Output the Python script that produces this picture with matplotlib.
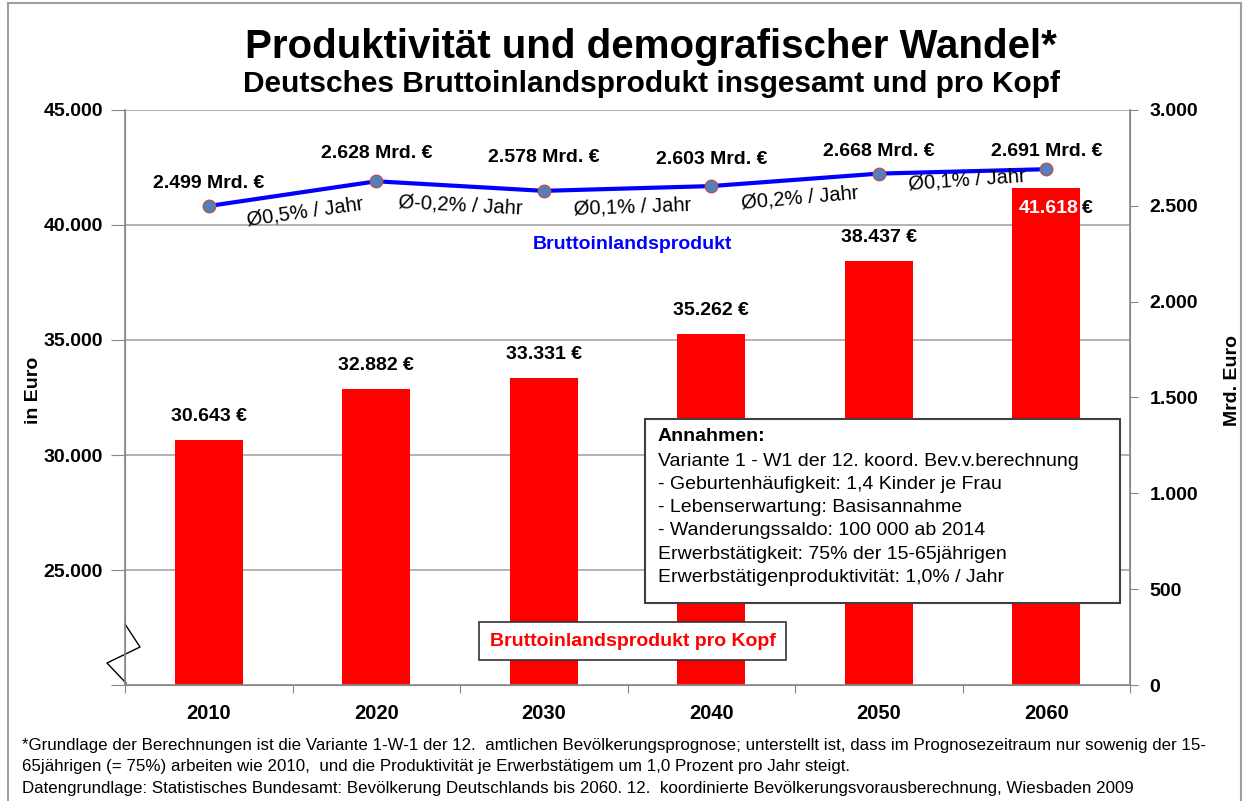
import matplotlib
matplotlib.use("Agg")
import matplotlib.pyplot as plt
from matplotlib.patches import Rectangle
from matplotlib.lines import Line2D

plt.rcParams['font.family'] = ['Liberation Sans', 'DejaVu Sans']

# data
years = ['2010', '2020', '2030', '2040', '2050', '2060']
bip_kopf = [30643, 32882, 33331, 35262, 38437, 41618]     # Euro pro Kopf
bip_mrd = [2499, 2628, 2578, 2603, 2668, 2691]            # Mrd. Euro
growth = ['Ø0,5% / Jahr', 'Ø-0,2% / Jahr', 'Ø0,1% / Jahr', 'Ø0,2% / Jahr', 'Ø0,1% / Jahr']

annahmen = ['Variante 1 - W1 der 12. koord. Bev.v.berechnung',
            '- Geburtenhäufigkeit: 1,4 Kinder je Frau',
            '- Lebenserwartung: Basisannahme',
            '- Wanderungssaldo: 100 000 ab 2014',
            'Erwerbstätigkeit: 75% der 15-65jährigen',
            'Erwerbstätigenproduktivität: 1,0% / Jahr']

footnote = ('*Grundlage der Berechnungen ist die Variante 1-W-1 der 12.  amtlichen Bevölkerungsprognose; '
            'unterstellt ist, dass im Prognosezeitraum nur sowenig der 15-\n'
            '65jährigen (= 75%) arbeiten wie 2010,  und die Produktivität je Erwerbstätigem um 1,0 Prozent pro Jahr steigt.\n'
            'Datengrundlage: Statistisches Bundesamt: Bevölkerung Deutschlands bis 2060. 12.  koordinierte '
            'Bevölkerungsvorausberechnung, Wiesbaden 2009')


def de(v):
    return f'{v:,.0f}'.replace(',', '.')


fig = plt.figure(figsize=(12.5, 8.01), dpi=100)
ax = fig.add_axes([0.1, 0.1448, 0.804, 0.7179])
ax2 = ax.twinx()

x = list(range(len(years)))
ax.bar(x, bip_kopf, width=0.405, color='#FF0000', zorder=2)
ax.set_xlim(-0.5, len(years) - 0.5)
ax.set_ylim(20000, 45000)
ax.set_yticks(range(20000, 45001, 5000))
ax.set_yticklabels([''] + [de(v) for v in range(25000, 45001, 5000)])
ax.set_axisbelow(True)
ax.grid(axis='y', color='#A6A6A6', lw=1.2)
ax.yaxis.get_gridlines()[0].set_visible(False)

ax.set_xticks([i - 0.5 for i in range(len(years) + 1)])
ax.set_xticklabels([])
ax.set_xticks(x, minor=True)
ax.set_xticklabels(years, minor=True, fontsize=14.5, fontweight='bold')
ax.tick_params(axis='x', which='major', length=6, color='#888888')
ax.tick_params(axis='x', which='minor', length=0, pad=14)
ax.tick_params(axis='y', length=10, color='#888888', labelsize=14, pad=6)
for lbl in ax.get_yticklabels():
    lbl.set_fontweight('bold')

for s in ['top']:
    ax.spines[s].set_visible(False)
    ax2.spines[s].set_visible(False)
for s in ['left', 'right', 'bottom']:
    ax.spines[s].set_color('#888888')
    ax2.spines[s].set_color('#888888')
    ax2.spines[s].set_linewidth(1.2)

# bar labels
for i, v in enumerate(bip_kopf):
    if i == len(bip_kopf) - 1:
        ax.text(i + 0.195, v - 900, de(v), color='white', ha='right', va='center',
                fontsize=14, fontweight='bold', zorder=5)
        ax.text(i + 0.215, v - 900, '€', color='black', ha='left', va='center',
                fontsize=14, fontweight='bold', zorder=5)
    else:
        ax.annotate(de(v) + ' €', (i, v), xytext=(0, 17), textcoords='offset points',
                    ha='center', va='center', fontsize=14, fontweight='bold')

# line on right axis
ax2.plot(x, bip_mrd, color='#0000FF', lw=3, marker='o', ms=9,
         mfc='#4F81BD', mec='#C0504D', mew=1, zorder=4)
ax2.set_ylim(0, 3000)
ax2.set_yticks(range(0, 3001, 500))
ax2.set_yticklabels([de(v) for v in range(0, 3001, 500)])
ax2.tick_params(axis='y', length=6, color='#888888', labelsize=14, pad=8)
for lbl in ax2.get_yticklabels():
    lbl.set_fontweight('bold')

lbl_dy = [16, 20, 24, 19, 16, 13]
for i, v in enumerate(bip_mrd):
    ax2.annotate(de(v) + ' Mrd. €', (i, v), xytext=(0.1, lbl_dy[i]), textcoords='offset points',
                 ha='center', va='center', fontsize=14, fontweight='bold')

gpos = [(0.575, 2468, 8), (1.5, 2504, -3), (2.527, 2494, 2), (3.53, 2541, 5), (4.53, 2635, 4)]
for (gx, gy, rot), g in zip(gpos, growth):
    ax2.text(gx, gy, g, ha='center', va='center', fontsize=14.5, rotation=rot,
             rotation_mode='anchor', zorder=5)

ax2.text(2.527, 2296, 'Bruttoinlandsprodukt', color='#0000FF', ha='center', va='center',
         fontsize=14, fontweight='bold')

# pro Kopf label box
ax.text(2.53, 21913, 'Bruttoinlandsprodukt pro Kopf', color='#FF0000', ha='center', va='center',
        fontsize=14, fontweight='bold', zorder=6,
        bbox=dict(boxstyle='square,pad=0.55', fc='white', ec='#333333', lw=1.2))

# Annahmen box
ax2.add_patch(Rectangle((0.517, 0.143), 0.473, 0.32, transform=ax2.transAxes,
                        fc='white', ec='#404040', lw=1.5, zorder=6))
ax2.text(0.53, (685 - 437) / 575, 'Annahmen:', transform=ax2.transAxes, ha='left', va='center',
         fontsize=14, fontweight='bold', zorder=7)
for k, line in enumerate(annahmen):
    ax2.text(0.53, (685 - 461 - 23.3 * k) / 575, line, transform=ax2.transAxes,
             ha='left', va='center', fontsize=14, zorder=7)

# axis break marker
bx = [(p - 125) / 1005 for p in (125, 140, 107, 126)]
by = [(685 - p) / 575 for p in (624, 647, 663, 683)]
ax.add_line(Line2D(bx, by, transform=ax.transAxes, color='black', lw=1, clip_on=False, zorder=6))

fig.text(0.027, 0.513, 'in Euro', rotation=90, ha='center', va='center', fontsize=14, fontweight='bold')
fig.text(0.986, 0.525, 'Mrd. Euro', rotation=90, ha='center', va='center', fontsize=14, fontweight='bold')

fig.text(0.521, 0.941, 'Produktivität und demografischer Wandel*', ha='center', va='center',
         fontsize=29, fontweight='bold')
fig.text(0.521, 0.895, 'Deutsches Bruttoinlandsprodukt insgesamt und pro Kopf', ha='center', va='center',
         fontsize=21.5, fontweight='bold')

fig.text(0.018, 0.0425, footnote, ha='left', va='center', fontsize=12.2, linespacing=1.55)

fig.add_artist(Rectangle((0.0064, -0.01), 0.9866, 1.006, transform=fig.transFigure,
                         fill=False, ec='#A0A0A0', lw=1.5))

fig.savefig('out.png', dpi=100)
